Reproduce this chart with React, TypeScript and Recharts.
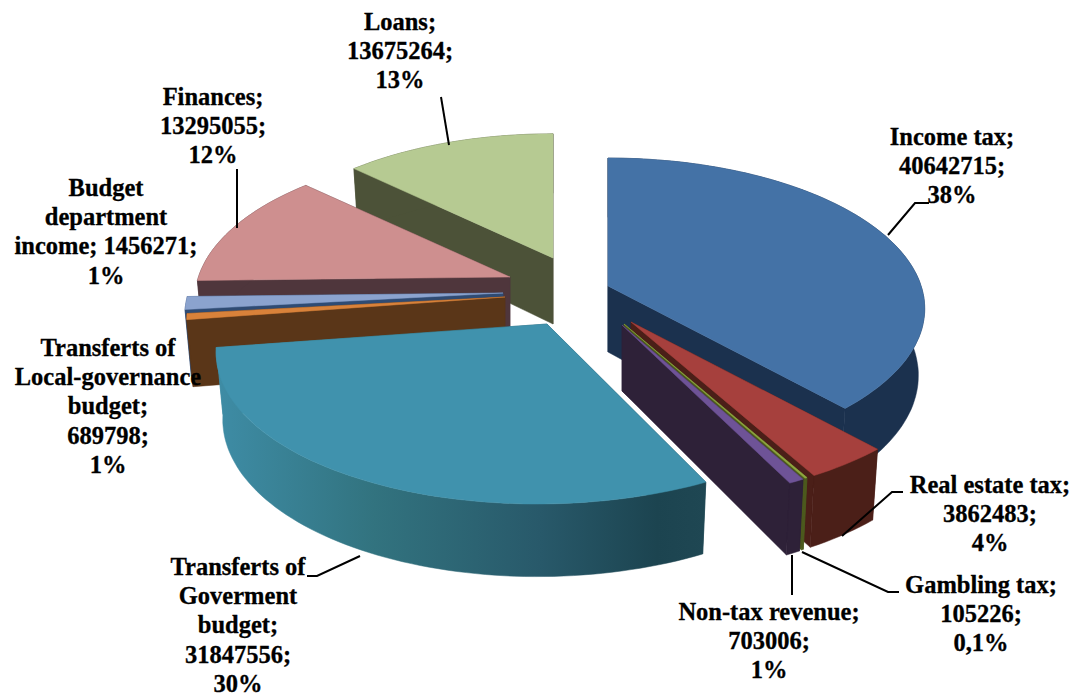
import React from 'react';
import { PieChart, Pie } from 'recharts';

const categories = [
  'Income tax',
  'Real estate tax',
  'Gambling tax',
  'Non-tax revenue',
  'Transferts of Goverment budget',
  'Transferts of Local-governance budget',
  'Budget department income',
  'Finances',
  'Loans',
];
const values = [40642715, 3862483, 105226, 703006, 31847556, 689798, 1456271, 13295055, 13675264];
const labelLines = [
  ['Income tax;', '40642715;', '38%'],
  ['Real estate tax;', '3862483;', '4%'],
  ['Gambling tax;', '105226;', '0,1%'],
  ['Non-tax revenue;', '703006;', '1%'],
  ['Transferts of', 'Goverment', 'budget;', '31847556;', '30%'],
  ['Transferts of', 'Local-governance', 'budget;', '689798;', '1%'],
  ['Budget', 'department', 'income; 1456271;', '1%'],
  ['Finances;', '13295055;', '12%'],
  ['Loans;', '13675264;', '13%'],
];

const data = categories.map((name, i) => ({ name, value: values[i] }));
// the back slices have to be painted from Loans round to the teal one, so that pie runs the other way
const reversedData = [...data].reverse();

const BACK = [8, 7, 6, 5, 4];

const CX = 565;
const CY = 300;
const RADIUS = 310;
const SQUASH = 0.47;
const PERSPECTIVE = 0.15;
const DEPTH = 66;

const topColors = ['#4472A6', '#A6403D', '#8FA63F', '#6E5397', '#4092AD', '#D9823A', '#8BA3CE', '#CE8F8F', '#B6CA92'];
const sideColors = ['#1B314E', '#4B1F18', '#4D5A1E', '#2E2138', 'url(#tealSide)', '#5A3618', '#2F4B73', '#4F363C', '#4C5238'];
// how far each slice was pulled out of the pie, and how close it is to the viewer
const shifts = [[43, -14], [66, 22], [59, 24], [57, 25], [-18, 24], [-60, -3], [-62, -7], [-55, -23], [-12, -42]];
const scales = [1.01, 1.05, 1.05, 1.05, 1.05, 1.015, 1.015, 1.005, 0.98];
const skews = [0, 0, 0, 0, -10, 0, 0, 0, 0];

const labelAnchors = [
  [952, 145], [990, 493], [981, 593], [769, 620], [238, 575], [108, 356], [106, 196], [213, 105], [400, 30],
];
const leaders: (number[][] | null)[] = [
  [[888, 235], [915, 203], [929, 203]],
  [[842, 536], [892, 492], [903, 492]],
  [[802, 552], [888, 592], [899, 592]],
  [[792, 555], [792, 595]],
  [[360, 556], [317, 576], [307, 576]],
  null,
  null,
  [[237, 169], [237, 228]],
  [[441, 97], [449, 145]],
];

const toPath = (pts: number[][]) =>
  pts.map((p, i) => `${i ? 'L' : 'M'}${p[0].toFixed(1)},${p[1].toFixed(1)}`).join(' ') + ' Z';

function Slice(props: any, group: 'back' | 'front') {
  const index = categories.indexOf(props.name);
  const isBack = BACK.includes(index);
  if (isBack !== (group === 'back')) return <g />;

  const ax = props.cx + shifts[index][0];
  const ay = props.cy + shifts[index][1];
  const r = props.outerRadius * scales[index];
  // recharts angles run counter-clockwise from 3 o'clock, these run clockwise from the top
  const a0 = 90 - props.startAngle;
  const a1 = 90 - props.endAngle;

  const vOf = (a: number) => -Math.cos((a * Math.PI) / 180);
  const top = (a: number) => {
    const rad = (a * Math.PI) / 180;
    const v = vOf(a);
    const s = 1 / (1 - PERSPECTIVE * v);
    return [ax + r * Math.sin(rad) * s + skews[index] * v, ay + r * SQUASH * v * s];
  };
  const bottom = (p: number[], v: number) => [ax + (p[0] - ax) * 0.98, p[1] + DEPTH * (1 + 0.1 * v)];

  const steps = Math.max(2, Math.ceil(Math.abs(a1 - a0) / 1.5));
  const angles: number[] = [];
  for (let i = 0; i <= steps; i++) angles.push(a0 + ((a1 - a0) * i) / steps);

  const topArc = angles.map(top);
  const bottomArc = angles.map((a, i) => bottom(topArc[i], vOf(a))).reverse();
  const apex = [ax, ay];
  const apexLow = [ax, ay + DEPTH];
  const first = topArc[0];
  const last = topArc[topArc.length - 1];
  const fill = topColors[index];
  const side = sideColors[index];

  return (
    <g>
      {index === 4 && (
        <defs>
          <linearGradient id="tealSide" gradientUnits="userSpaceOnUse" x1="218" y1="0" x2="706" y2="0">
            <stop offset="0" stopColor="#3E8CA5" />
            <stop offset="0.32" stopColor="#32737F" />
            <stop offset="0.66" stopColor="#28596A" />
            <stop offset="0.9" stopColor="#1C4450" />
            <stop offset="1" stopColor="#1F4753" />
          </linearGradient>
        </defs>
      )}
      <path d={toPath([apex, first, bottom(first, vOf(a0)), apexLow])} fill={side} stroke={side} strokeWidth={0.5} />
      <path d={toPath([apex, last, bottom(last, vOf(a1)), apexLow])} fill={side} stroke={side} strokeWidth={0.5} />
      <path d={toPath([...topArc, ...bottomArc])} fill={side} stroke={side} strokeWidth={0.5} />
      <path d={toPath([apex, ...topArc])} fill={fill} stroke={fill} strokeWidth={0.5} />
    </g>
  );
}

function SliceLabel(props: any) {
  const index = categories.indexOf(props.name);
  const [x, y] = labelAnchors[index];
  const line = leaders[index];
  return (
    <g>
      {line && (
        <polyline points={line.map((p) => p.join(',')).join(' ')} fill="none" stroke="#000" strokeWidth={2} />
      )}
      <text
        x={x}
        y={y}
        textAnchor="middle"
        fontFamily="'Liberation Serif', serif"
        fontWeight="bold"
        fontSize={24.5}
        stroke="#000"
        strokeWidth={0.3}
        fill="#000"
      >
        {labelLines[index].map((t, i) => (
          <tspan key={i} x={x} y={y + i * 29.2}>
            {t}
          </tspan>
        ))}
      </text>
    </g>
  );
}

export default function App() {
  return (
    <div style={{ position: 'absolute', left: 0, top: 0, width: 1075, height: 694, background: '#fff' }}>
      <PieChart width={1075} height={694} margin={{ top: 0, right: 0, bottom: 0, left: 0 }}>
        <Pie
          data={reversedData}
          dataKey="value"
          nameKey="name"
          cx={CX}
          cy={CY}
          outerRadius={RADIUS}
          startAngle={90}
          endAngle={450}
          isAnimationActive={false}
          shape={(p: any) => Slice(p, 'back')}
        />
        <Pie
          data={data}
          dataKey="value"
          nameKey="name"
          cx={CX}
          cy={CY}
          outerRadius={RADIUS}
          startAngle={90}
          endAngle={-270}
          isAnimationActive={false}
          shape={(p: any) => Slice(p, 'front')}
          label={SliceLabel}
          labelLine={false}
        />
      </PieChart>
    </div>
  );
}
